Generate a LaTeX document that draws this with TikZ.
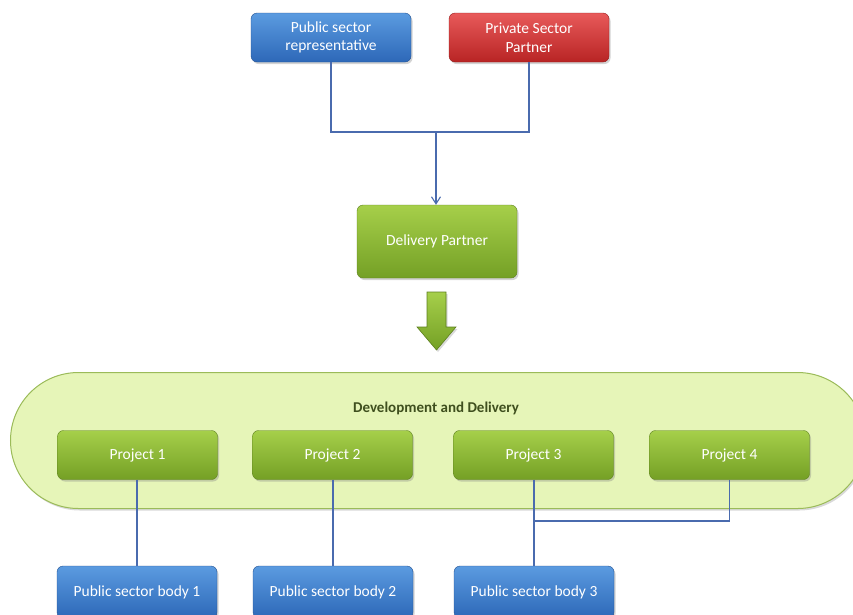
\documentclass[tikz,border=0pt]{standalone}
\usepackage{fontspec}
\setmainfont{Carlito}
\usetikzlibrary{shadows,arrows.meta}
\definecolor{bluetop}{HTML}{5B9BE0}
\definecolor{bluebot}{HTML}{2D68B8}
\definecolor{redtop}{HTML}{E85A5A}
\definecolor{redbot}{HTML}{B82424}
\definecolor{greentop}{HTML}{A6CF4A}
\definecolor{greenbot}{HTML}{74A025}
\definecolor{ovalfill}{HTML}{E6F5B8}
\definecolor{ovaledge}{HTML}{9BBB59}
\definecolor{linkcol}{HTML}{4A6BAE}
\definecolor{titlecol}{HTML}{3F4F1E}
\tikzset{
  boxbase/.style={rounded corners=6pt, minimum width=160pt, text=white, font=\fontsize{15.5}{18.5}\selectfont, align=center, inner sep=0pt,
    drop shadow={shadow xshift=1.5pt, shadow yshift=-2pt, opacity=0.35}},
  bluebox/.style={boxbase, top color=bluetop, bottom color=bluebot, draw=bluebot!80!black, minimum height=49pt},
  redbox/.style={boxbase, top color=redtop, bottom color=redbot, draw=redbot!80!black, minimum height=49pt},
  greenbox/.style={boxbase, top color=greentop, bottom color=greenbot, draw=greenbot!80!black, minimum height=49pt},
  link/.style={draw=linkcol, line width=1.1pt},
}
\begin{document}
\begin{tikzpicture}[x=1pt,y=-1pt]
\useasboundingbox (0,0) rectangle (853,614);
\begin{scope}
\clip (0,0) rectangle (853,614);
% oval
\node[draw=ovaledge, line width=1pt, fill=ovalfill, rounded corners=68pt, minimum width=855pt, minimum height=136pt, anchor=north west, inner sep=0pt,
  drop shadow={shadow xshift=1.5pt, shadow yshift=-2pt, opacity=0.3}] (oval) at (10,372) {};
\node[font=\bfseries\fontsize{15}{17}\selectfont, text=titlecol] (title) at (436,408) {Development and Delivery};

\node[bluebox] (psr) at (331,37.5) {Public sector\\representative};
\node[redbox] (psp) at (529,37.5) {Private Sector\\Partner};
\node[greenbox, minimum height=73pt] (dp) at (437,241.5) {Delivery Partner};

\node[greenbox] (p1) at (137.5,455) {Project 1};
\node[greenbox] (p2) at (332.5,455) {Project 2};
\node[greenbox] (p3) at (533.5,455) {Project 3};
\node[greenbox] (p4) at (729.5,455) {Project 4};

\node[bluebox, minimum height=52pt] (b1) at (137,592) {Public sector body 1};
\node[bluebox, minimum height=52pt] (b2) at (333,592) {Public sector body 2};
\node[bluebox, minimum height=52pt] (b3) at (534,592) {Public sector body 3};

% connectors
\coordinate (j) at (436,132);
\draw[link] (psr.south) |- (j);
\draw[link] (psp.south) |- (j);
\draw[link, -{Straight Barb[length=7pt,width=9pt]}] (j) -- (dp.north -| j);

\draw[link] (p1.south -| b1.north) -- (b1.north);
\draw[link] (p2.south -| b2.north) -- (b2.north);
\draw[link] (p3.south -| b3.north) -- (b3.north);
\coordinate (k) at (534,521);
\draw[link] (p4.south) |- (k);

% block arrow
\path[top color=greentop, bottom color=greenbot, draw=greenbot!80!black, line width=0.6pt,
  drop shadow={shadow xshift=1.5pt, shadow yshift=-2pt, opacity=0.3}]
  (427,292) -- (446,292) -- (446,327) -- (456,327) -- (436.5,350) -- (417,327) -- (427,327) -- cycle;
\end{scope}
\end{tikzpicture}
\end{document}
